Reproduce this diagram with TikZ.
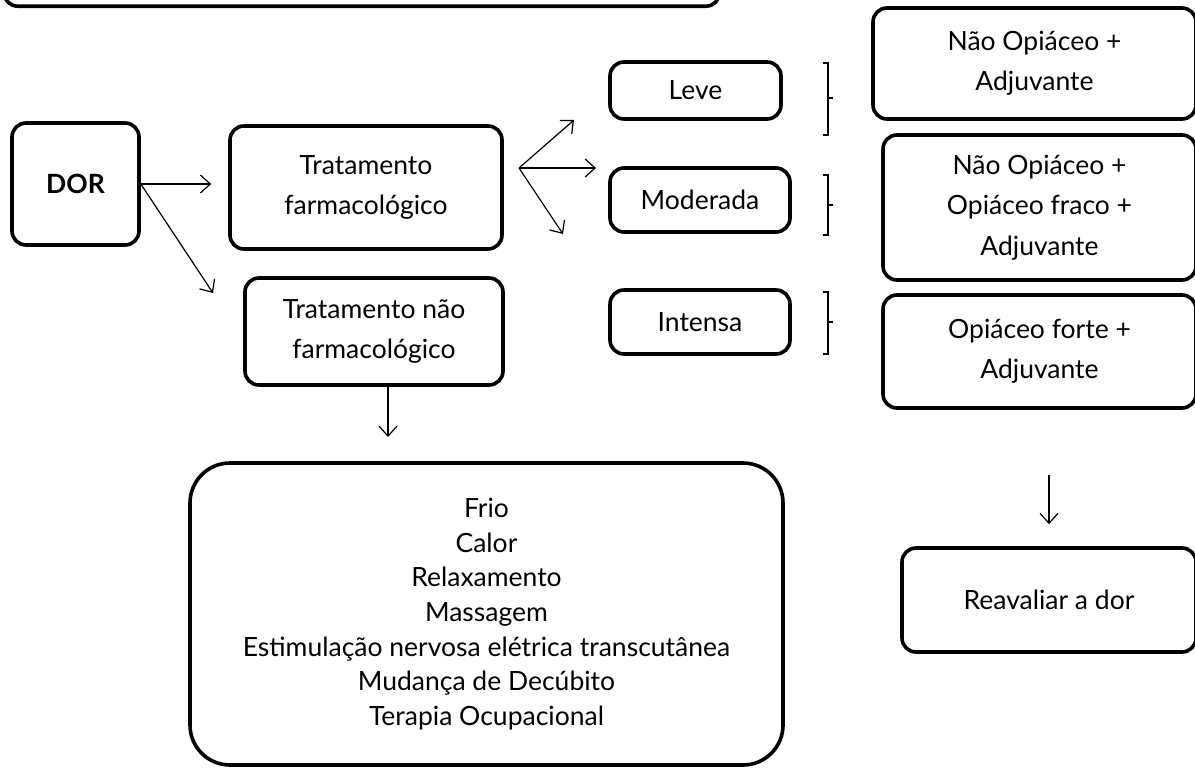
\documentclass[tikz,border=0pt]{standalone}
\usepackage{fontspec}
\setmainfont{Lato}
\usetikzlibrary{arrows.meta}

\begin{document}
\begin{tikzpicture}[x=0.5bp,y=-0.5bp,
  box/.style={draw,line width=1.8bp,rounded corners=7bp,align=center,
    inner sep=0pt,font=\fontsize{13.3}{20.3}\selectfont},
  seta/.style={->,line width=0.6bp},
  >={Straight Barb[length=5bp,width=9bp]}]
  \useasboundingbox (0,0) rectangle (1195,767);
  \clip (0,0) rectangle (1195,767);

  \node[box,minimum width=358bp,minimum height=40bp,anchor=south west] (topo) at (2,8) {};

  \node[box,minimum width=63.5bp,minimum height=61bp] (dor) at (75.5,184) {\textbf{DOR}};
  \node[box,minimum width=136bp,minimum height=61.5bp] (farm) at (366,187.5) {Tratamento\\farmacológico};
  \node[box,minimum width=129bp,minimum height=53.5bp] (naofarm) at (374,331.5) {Tratamento não\\farmacológico};

  \node[box,minimum width=85.5bp,minimum height=28.5bp] (leve) at (695.5,90.5) {Leve};
  \node[box,minimum width=90bp,minimum height=32bp] (moderada) at (700,200) {Moderada};
  \node[box,minimum width=90bp,minimum height=32bp] (intensa) at (700,322) {Intensa};

  \node[box,minimum width=161.5bp,minimum height=55.5bp] (r1) at (1034.5,63.5) {Não Opiáceo +\\Adjuvante};
  \node[box,minimum width=156.5bp,minimum height=72.5bp] (r2) at (1039.5,207.5) {Não Opiáceo +\\Opiáceo fraco +\\Adjuvante};
  \node[box,minimum width=156.5bp,minimum height=56.5bp] (r3) at (1039.5,351.5) {Opiáceo forte +\\Adjuvante};
  \node[box,minimum width=147bp,minimum height=52bp] (reav) at (1049,600) {Reavaliar a dor};

  \node[box,rounded corners=20bp,minimum width=296.5bp,minimum height=151bp,
    font=\fontsize{13.3}{17.4}\selectfont] (nfm) at (486.5,614)
    {Frio\\Calor\\Relaxamento\\Massagem\\Estimulação nervosa elétrica transcutânea\\Mudança de Decúbito\\Terapia Ocupacional};

  \coordinate (d2) at (213,293);
  \coordinate (fan) at (519,168);
  \coordinate (f1) at (574,120);
  \coordinate (f2) at (596,168);
  \coordinate (f3) at (563,234);
  \coordinate (t1) at (388,437);

  \draw[seta,shorten >=8.5bp] (dor.east) -- (dor.east -| farm.west);
  \draw[seta] (dor.east) -- (d2);
  \draw[seta] (fan) -- (f1);
  \draw[seta] (fan) -- (f2);
  \draw[seta] (fan) -- (f3);
  \draw[seta] (naofarm.south -| t1) -- (t1);
  \draw[seta,shorten <=32.5bp,shorten >=11bp] (reav.north |- r3.south) -- (reav.north);

  \foreach \t/\m/\b in {63/98/135,175/205/235,292/322/354}
    \draw[line width=0.6bp] (823,\t) -- (828,\t) -- (828,\b) -- (823,\b) (828,\m) -- (833,\m);
\end{tikzpicture}
\end{document}
